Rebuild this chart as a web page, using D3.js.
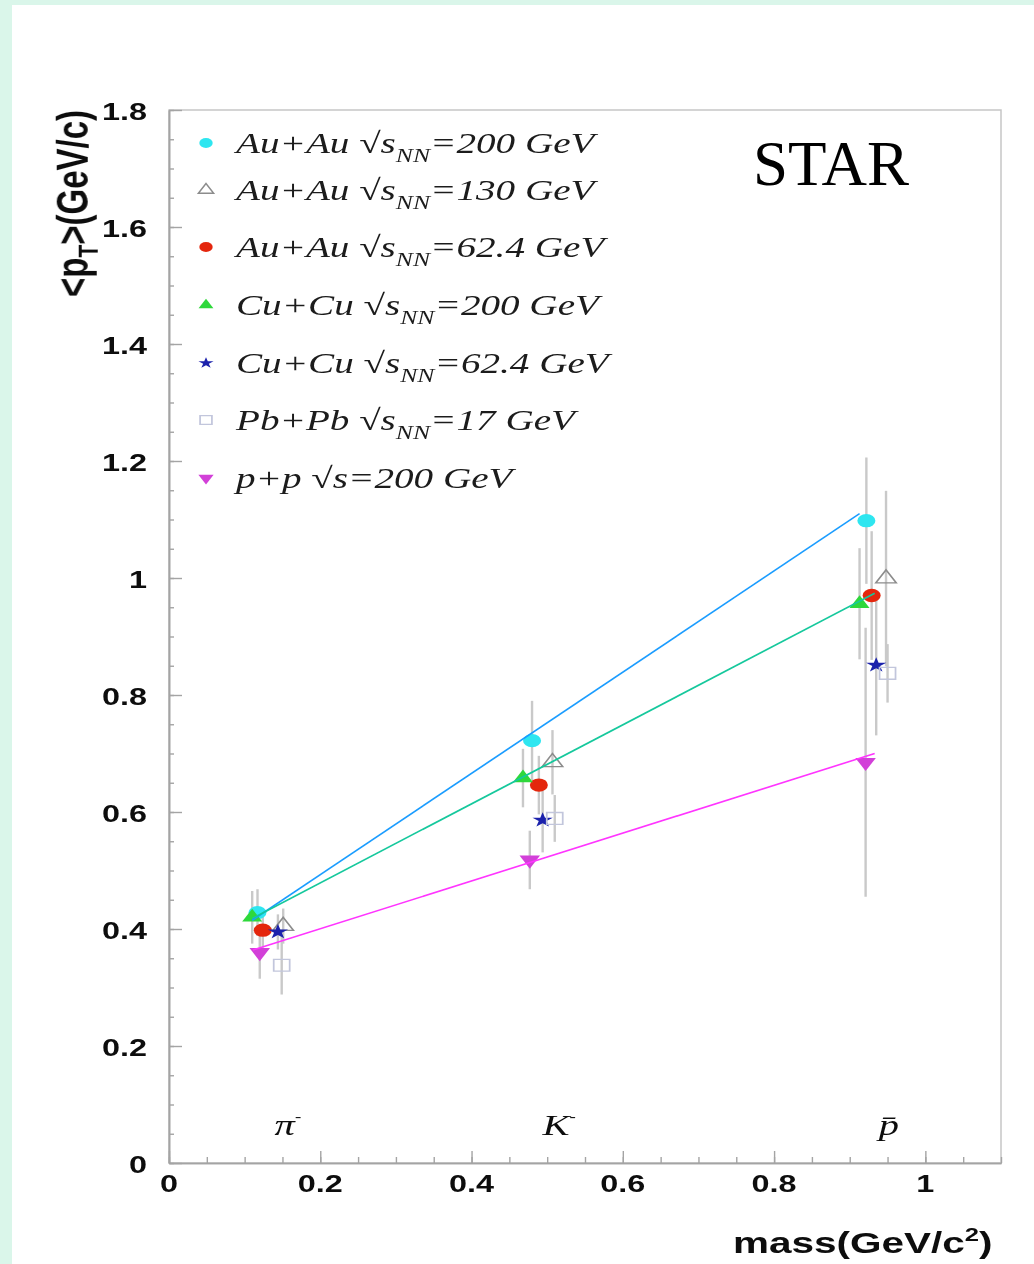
<!DOCTYPE html>
<html>
<head>
<meta charset="utf-8">
<script src="https://cdn.jsdelivr.net/npm/d3@7"></script>
<style>
  html, body { margin: 0; padding: 0; background: #daf6ea; }
  svg { display: block; }
</style>
</head>
<body>
<svg id="chart" width="1034" height="1264"></svg>
<script>
// Particle species along the mass axis
const particleNames = ["π", "K", "p"];
const particleMass = [0.1396, 0.4937, 0.9383];

// Collision systems (legend entries)
const seriesSystem = ["Au+Au", "Au+Au", "Au+Au", "Cu+Cu", "Cu+Cu", "Pb+Pb", "p+p"];
const seriesSub    = ["NN", "NN", "NN", "NN", "NN", "NN", ""];
const seriesEnergy = ["=200 GeV", "=130 GeV", "=62.4 GeV", "=200 GeV", "=62.4 GeV", "=17 GeV", "=200 GeV"];

// Plotted mass positions (slightly offset per system), <pT> values and errors
const seriesX = [
  [0.117, 0.480, 0.922],
  [0.151, 0.507, 0.948],
  [0.124, 0.489, 0.929],
  [0.110, 0.468, 0.913],
  [0.144, 0.494, 0.935],
  [0.149, 0.510, 0.950],
  [0.120, 0.477, 0.921]
];
const seriesY = [
  [0.428, 0.722, 1.098],
  [0.405, 0.685, 0.999],
  [0.398, 0.646, 0.970],
  [0.420, 0.658, 0.956],
  [0.395, 0.586, 0.851],
  [0.338, 0.589, 0.837],
  [0.360, 0.518, 0.685]
];
const seriesErr = [
  [0.040, 0.068, 0.108],
  [0.030, 0.055, 0.150],
  [0.030, 0.050, 0.110],
  [0.045, 0.050, 0.095],
  [0.030, 0.055, 0.120],
  [0.050, 0.040, 0.050],
  [0.045, 0.050, 0.230]
];

// Straight-line trends for Au+Au 200, Cu+Cu 200 and p+p 200
const fitX = [[0.110, 0.913], [0.110, 0.933], [0.111, 0.933]];
const fitY = [[0.415, 1.110], [0.418, 0.974], [0.364, 0.700]];

// Axis ticks
const xTickValues = [0, 0.2, 0.4, 0.6, 0.8, 1];
const xTickLabels = ["0", "0.2", "0.4", "0.6", "0.8", "1"];
const yTickValues = [0, 0.2, 0.4, 0.6, 0.8, 1, 1.2, 1.4, 1.6, 1.8];
const yTickLabels = ["0", "0.2", "0.4", "0.6", "0.8", "1", "1.2", "1.4", "1.6", "1.8"];

// ---------------------------------------------------------------------------
const W = 1034, H = 1264;
const frame = { left: 169, right: 1001, top: 110, bottom: 1163 };
const SX = 1.35; // horizontal stretch of glyphs and markers

const svg = d3.select("#chart");

const defs = svg.append("defs");
defs.append("filter").attr("id", "soft")
  .attr("x", "-5%").attr("y", "-5%").attr("width", "110%").attr("height", "110%")
  .append("feGaussianBlur").attr("stdDeviation", 0.6);

// page panel
svg.append("rect").attr("x", 0).attr("y", 0).attr("width", W).attr("height", H).attr("fill", "#daf6ea");
svg.append("rect").attr("x", 12).attr("y", 5).attr("width", W - 12).attr("height", H - 5).attr("fill", "#ffffff");

const x = d3.scaleLinear().domain([0, 1.1]).range([frame.left, frame.right]);
const y = d3.scaleLinear().domain([0, 1.8]).range([frame.bottom, frame.top]);

const g = svg.append("g").attr("filter", "url(#soft)");

// frame
g.append("rect")
  .attr("x", frame.left).attr("y", frame.top)
  .attr("width", frame.right - frame.left).attr("height", frame.bottom - frame.top)
  .attr("fill", "none").attr("stroke", "#c6c6c6").attr("stroke-width", 1.5);

const axisColor = "#a4a4a4";
function styleAxis(sel) {
  sel.selectAll("path.domain").attr("stroke", axisColor).attr("stroke-width", 1.6);
  sel.selectAll(".tick line").attr("stroke", axisColor).attr("stroke-width", 1.4);
  sel.selectAll(".tick text").remove();
}

const xMinor = d3.range(0, 1.1001, 0.05);
const yMinor = d3.range(0, 1.8001, 0.05);

g.append("g").attr("transform", `translate(0,${frame.bottom})`)
  .call(d3.axisBottom(x).tickValues(xMinor).tickSize(-6).tickSizeOuter(0).tickFormat(""))
  .call(styleAxis);
g.append("g").attr("transform", `translate(0,${frame.bottom})`)
  .call(d3.axisBottom(x).tickValues(xTickValues).tickSize(-12).tickSizeOuter(0).tickFormat(""))
  .call(styleAxis);
g.append("g").attr("transform", `translate(${frame.left},0)`)
  .call(d3.axisLeft(y).tickValues(yMinor).tickSize(-5).tickSizeOuter(0).tickFormat(""))
  .call(styleAxis);
g.append("g").attr("transform", `translate(${frame.left},0)`)
  .call(d3.axisLeft(y).tickValues(yTickValues).tickSize(-13).tickSizeOuter(0).tickFormat(""))
  .call(styleAxis);

// text helper: glyphs stretched horizontally
function stext(parent, px, py, opts = {}) {
  const t = parent.append("text")
    .attr("transform", `translate(${px},${py}) scale(${SX},1)` + (opts.rotate ? ` rotate(${opts.rotate})` : ""))
    .attr("font-family", opts.family || "'Liberation Sans', Arial, sans-serif")
    .attr("font-size", opts.size || 24)
    .attr("font-weight", opts.weight || "normal")
    .attr("font-style", opts.style || "normal")
    .attr("text-anchor", opts.anchor || "start")
    .attr("fill", opts.fill || "#111");
  return t;
}

// tick labels
xTickValues.forEach((v, i) => {
  stext(g, x(v), frame.bottom + 29, { size: 24, weight: "bold", anchor: "middle" }).text(xTickLabels[i]);
});
yTickValues.forEach((v, i) => {
  stext(g, frame.left - 22, y(v) + 10, { size: 24, weight: "bold", anchor: "end" }).text(yTickLabels[i]);
});

// axis titles
const yt = stext(g, 88, frame.top, { size: 33, weight: "bold", anchor: "end", rotate: -90 });
yt.append("tspan").text("<p");
yt.append("tspan").attr("font-size", 21).attr("dy", 7).text("T");
yt.append("tspan").attr("dy", -7).text(">(GeV/c)");

const xt = stext(g, 733, 1253, { size: 30, weight: "bold" });
xt.append("tspan").text("mass(GeV/c");
xt.append("tspan").attr("font-size", 19).attr("dy", -12).text("2");
xt.append("tspan").attr("dy", 12).text(")");

// particle labels
const serif = "'Liberation Serif', 'Times New Roman', serif";
particleNames.forEach((name, i) => {
  const t = stext(g, x(particleMass[i]), 1135, { size: 30, style: "italic", family: serif });
  if (i === 2) {
    t.append("tspan").text(name + "\u0304");
  } else {
    t.append("tspan").text(name);
    t.append("tspan").attr("font-size", 14).attr("dy", -14).text("-");
  }
});

// marker styles per system
const styles = [
  { type: d3.symbolCircle,   size: 140, fill: "#2ee6f0", stroke: "none", rot: 0 },
  { type: d3.symbolTriangle, size: 100, fill: "none",    stroke: "#8c8c8c", rot: 0 },
  { type: d3.symbolCircle,   size: 140, fill: "#e4280f", stroke: "none", rot: 0 },
  { type: d3.symbolTriangle, size: 95,  fill: "#2fd83a", stroke: "none", rot: 0 },
  { type: d3.symbolStar,     size: 70,  fill: "#1b23ac", stroke: "none", rot: 0 },
  { type: d3.symbolSquare,   size: 140, fill: "none",    stroke: "#c2c6dc", rot: 0 },
  { type: d3.symbolTriangle, size: 100, fill: "#d23fd8", stroke: "none", rot: 180 }
];

function drawMarker(parent, st, px, py, scale) {
  parent.append("path")
    .attr("d", d3.symbol().type(st.type).size(st.size * scale)())
    .attr("transform", `translate(${px},${py}) scale(${SX},1) rotate(${st.rot})`)
    .attr("fill", st.fill)
    .attr("stroke", st.stroke)
    .attr("stroke-width", st.stroke === "none" ? 0 : 1.3);
}

// error bars
const errG = g.append("g");
seriesY.forEach((ys, s) => {
  ys.forEach((v, i) => {
    errG.append("line")
      .attr("x1", x(seriesX[s][i])).attr("x2", x(seriesX[s][i]))
      .attr("y1", y(v + seriesErr[s][i])).attr("y2", y(v - seriesErr[s][i]))
      .attr("stroke", "#c9c9c9").attr("stroke-width", 2.4);
  });
});

// markers
const mkG = g.append("g");
seriesY.forEach((ys, s) => {
  ys.forEach((v, i) => drawMarker(mkG, styles[s], x(seriesX[s][i]), y(v), 1));
});

// trend lines
const fitColors = ["#1a9cff", "#14c89c", "#ff34ff"];
const line = d3.line().x(d => x(d[0])).y(d => y(d[1]));
fitX.forEach((xs, k) => {
  g.append("path")
    .attr("d", line(xs.map((xv, j) => [xv, fitY[k][j]])))
    .attr("fill", "none").attr("stroke", fitColors[k]).attr("stroke-width", 1.6);
});

// legend
const legendRowY = [143, 190, 247, 305, 363, 420, 478];
const lg = g.append("g");
seriesSystem.forEach((sys, s) => {
  const ry = legendRowY[s];
  drawMarker(lg, styles[s], 206, ry, 0.55);
  const t = stext(lg, 236, ry + 10, { size: 29, style: "italic", family: serif, fill: "#1a1a1a" });
  t.append("tspan").text(sys + " ");
  t.append("tspan").attr("font-style", "normal").text("√");
  t.append("tspan").text("s");
  if (seriesSub[s]) {
    t.append("tspan").attr("font-size", 19).attr("dy", 9).text(seriesSub[s]);
    t.append("tspan").attr("dy", -9).text(seriesEnergy[s]);
  } else {
    t.append("tspan").text(seriesEnergy[s]);
  }
});

// experiment tag
svg.append("text")
  .attr("x", 753).attr("y", 185)
  .attr("font-family", serif)
  .attr("font-size", 63)
  .attr("fill", "#000")
  .text("STAR");
</script>
</body>
</html>
